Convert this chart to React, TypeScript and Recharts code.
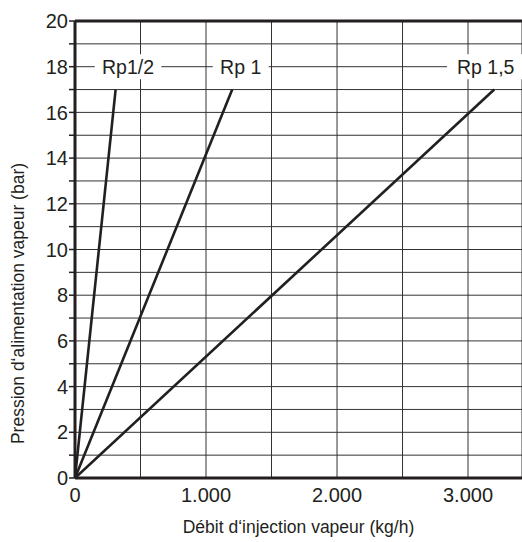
import React from 'react';
import { ComposedChart, Line, XAxis, YAxis, CartesianGrid, ReferenceLine, ReferenceDot } from 'recharts';

const xTicks = [0, 500, 1000, 1500, 2000, 2500, 3000];
const yTicks = [0, 1, 2, 3, 4, 5, 6, 7, 8, 9, 10, 11, 12, 13, 14, 15, 16, 17, 18, 19, 20];

const rpHalf = [{ x: 0, y: 0 }, { x: 310, y: 17 }];
const rpOne = [{ x: 0, y: 0 }, { x: 1200, y: 17 }];
const rpOneFive = [{ x: 0, y: 0 }, { x: 3200, y: 17 }];

const seriesLabels = [
  { x: 405, y: 18, name: 'Rp1/2' },
  { x: 1265, y: 18, name: 'Rp 1' },
  { x: 3135, y: 18, name: 'Rp 1,5' },
];

const FONT = '"Liberation Sans", Arial, Helvetica, sans-serif';
const INK = '#231f20';

const fmtX = (v: number) => (v % 1000 === 0 ? (v === 0 ? '0' : `${v / 1000}.000`) : '');
const fmtY = (v: number) => (v % 2 === 0 ? String(v) : '');

const LabelBox = (name: string) => (props: any) => {
  const { cx, cy } = props;
  const fs = 19.5;
  const w = name.length * 0.55 * fs + 13;
  return (
    <g>
      <rect x={cx - w / 2} y={cy - 12.5} width={w} height={25} fill="#fff" />
      <text x={cx} y={cy} textAnchor="middle" dominantBaseline="central" fontFamily={FONT} fontSize={fs} fill={INK}>
        {name}
      </text>
    </g>
  );
};

export default function App() {
  return (
    <div style={{ position: 'absolute', left: 0, top: 0, background: '#fff' }}>
      <ComposedChart width={522} height={542} margin={{ top: 21, right: 0, bottom: 0, left: 0 }}>
        <CartesianGrid stroke="#333" strokeWidth={1} horizontal vertical />
        <XAxis
          type="number"
          dataKey="x"
          domain={[0, 3412]}
          ticks={xTicks}
          allowDataOverflow
          tickFormatter={fmtX}
          height={64}
          tickSize={0}
          tickMargin={10}
          tick={{ fontFamily: FONT, fontSize: 20, fill: INK }}
          axisLine={{ stroke: INK, strokeWidth: 3 }}
          label={{
            content: (p: any) => {
              const vb = p.viewBox;
              return (
                <text x={vb.x + vb.width / 2} y={vb.y + 55} textAnchor="middle" fontFamily={FONT} fontSize={17.5} fill={INK}>
                  Débit d‘injection vapeur (kg/h)
                </text>
              );
            },
          }}
        />
        <YAxis
          type="number"
          domain={[0, 20]}
          ticks={yTicks}
          interval={0}
          tickFormatter={fmtY}
          width={75}
          tickSize={6}
          tickMargin={1}
          tick={{ fontFamily: FONT, fontSize: 20, fill: INK }}
          tickLine={{ stroke: INK, strokeWidth: 1.5 }}
          axisLine={{ stroke: INK, strokeWidth: 3 }}
          label={{
            content: (p: any) => {
              const vb = p.viewBox;
              const cx = vb.x + 18;
              const cy = vb.y + vb.height / 2 + 54;
              return (
                <text x={cx} y={cy} transform={`rotate(-90 ${cx} ${cy})`} textAnchor="middle" dominantBaseline="central" fontFamily={FONT} fontSize={17.5} fill={INK}>
                  Pression d‘alimentation vapeur (bar)
                </text>
              );
            },
          }}
        />
        <ReferenceLine y={20} stroke={INK} strokeWidth={3} />
        <Line data={rpHalf} dataKey="y" stroke={INK} strokeWidth={2.6} dot={false} isAnimationActive={false} />
        <Line data={rpOne} dataKey="y" stroke={INK} strokeWidth={2.6} dot={false} isAnimationActive={false} />
        <Line data={rpOneFive} dataKey="y" stroke={INK} strokeWidth={2.6} dot={false} isAnimationActive={false} />
        {seriesLabels.map((l) => (
          <ReferenceDot key={l.name} x={l.x} y={l.y} ifOverflow="visible" shape={LabelBox(l.name)} />
        ))}
      </ComposedChart>
    </div>
  );
}
